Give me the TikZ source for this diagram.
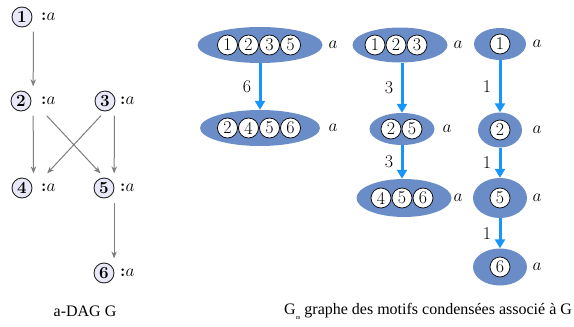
\documentclass[tikz,border=0pt]{standalone}
\usepackage{fontspec}
\newfontfamily\capfont{Liberation Serif}
\usetikzlibrary{arrows.meta,shapes.geometric,fit}
\definecolor{lavender}{RGB}{232,232,248}
\definecolor{motifblue}{RGB}{106,141,199}
\definecolor{arrowblue}{RGB}{22,150,250}
\definecolor{daggray}{RGB}{125,125,125}
\tikzset{
  dagnum/.style={circle, draw=black!85, fill=lavender, line width=0.9pt, inner sep=0pt,
    minimum size=20pt, font=\fontsize{17}{17}\selectfont\bfseries},
  dagtag/.style={anchor=west, inner sep=0pt, font=\fontsize{17}{17}\selectfont},
  dagbox/.style={inner sep=4pt},
  dagarrow/.style={draw=daggray, line width=1pt, -{Stealth[length=7pt,width=5.5pt]}},
  motif/.style={ellipse, fill=motifblue, inner sep=0pt},
  dotnum/.style={circle, draw=black, fill=white, line width=0.7pt, minimum size=20pt,
    inner sep=0pt, font=\fontsize{18}{18}\selectfont},
  motiftag/.style={font=\fontsize{18}{18}\selectfont},
  bluearrow/.style={draw=arrowblue, line width=3pt, -{Triangle[length=9pt,width=10pt]}},
  weight/.style={font=\fontsize{18}{18}\selectfont, left=4pt, midway},
  caption/.style={font=\capfont\fontsize{16}{16}\selectfont, inner sep=0pt}
}
\begin{document}
\begin{tikzpicture}[x=1pt,y=-1pt]
\useasboundingbox (0,0) rectangle (574,327);

% ---------- left: a-DAG G ----------
\node[dagnum] (c1) at (22,17) {1};  \node[dagtag] (t1) at (41,17) {\textbf{:}$a$};
\node[dagnum] (c2) at (21,101) {2}; \node[dagtag] (t2) at (41,101) {\textbf{:}$a$};
\node[dagnum] (c3) at (105,101) {3}; \node[dagtag] (t3) at (120,101) {\textbf{:}$a$};
\node[dagnum] (c4) at (22,188) {4}; \node[dagtag] (t4) at (41,188) {\textbf{:}$a$};
\node[dagnum] (c5) at (104,188) {5}; \node[dagtag] (t5) at (120,188) {\textbf{:}$a$};
\node[dagnum] (c6) at (104,273) {6}; \node[dagtag] (t6) at (120,273) {\textbf{:}$a$};
\node[dagbox, fit=(c1)(t1)] (g1) {};
\node[dagbox, fit=(c2)(t2)] (g2) {};
\node[dagbox, fit=(c3)(t3)] (g3) {};
\node[dagbox, fit=(c4)(t4)] (g4) {};
\node[dagbox, fit=(c5)(t5)] (g5) {};
\node[dagbox, fit=(c6)(t6)] (g6) {};
\draw[dagarrow] (g1) -- (g2);
\draw[dagarrow] (g2) -- (g4);
\draw[dagarrow] (g2) -- (g5);
\draw[dagarrow] (g3) -- (g4);
\draw[dagarrow] (g3) -- (g5);
\draw[dagarrow] (g5) -- (g6);

% ---------- right: condensed motif graphs ----------
% column 1
\node[motif, minimum width=125pt, minimum height=36pt] (e1) at (260,45) {};
\node[dotnum] (e1a) at (227.5,45) {1};
\node[dotnum] (e1b) at (248.5,45) {2};
\node[dotnum] (e1c) at (269.5,45) {3};
\node[dotnum] (e1d) at (290.5,45) {5};
\node[motiftag] (a1) at (333,45) {$a$};
\node[motif, minimum width=120pt, minimum height=36pt] (e2) at (260,128) {};
\node[dotnum] (e2a) at (227.5,128) {2};
\node[dotnum] (e2b) at (248.5,128) {4};
\node[dotnum] (e2c) at (269.5,128) {5};
\node[dotnum] (e2d) at (290.5,128) {6};
\node[motiftag] (a2) at (333,128) {$a$};
\draw[bluearrow] (e1) -- node[weight] (w1) {6} (e2);

% column 2
\node[motif, minimum width=95pt, minimum height=35pt] (e3) at (400,45) {};
\node[dotnum] (e3a) at (375,45) {1};
\node[dotnum] (e3b) at (396,45) {2};
\node[dotnum] (e3c) at (417,45) {3};
\node[motiftag] (a3) at (458,45) {$a$};
\node[motif, minimum width=65pt, minimum height=32pt] (e4) at (402,129) {};
\node[dotnum] (e4a) at (391,129) {2};
\node[dotnum] (e4b) at (412,129) {5};
\node[motiftag] (a4) at (447,129) {$a$};
\node[motif, minimum width=95pt, minimum height=38pt] (e5) at (404,198) {};
\node[dotnum] (e5a) at (381,198) {4};
\node[dotnum] (e5b) at (402,198) {5};
\node[dotnum] (e5c) at (423,198) {6};
\node[motiftag] (a5) at (458,198) {$a$};
\draw[bluearrow] (e3.south -| e4) -- node[weight] (w2) {3} (e4);
\draw[bluearrow] (e4) -- node[weight] (w3) {3} (e5.north -| e4);

% column 3
\node[motif, minimum width=52pt, minimum height=32pt] (e6) at (500,44) {};
\node[dotnum] (e6a) at (500,44) {1};
\node[motiftag] (a6) at (537,44) {$a$};
\node[motif, minimum width=44pt, minimum height=35pt] (e7) at (500,130) {};
\node[dotnum] (e7a) at (500,130) {2};
\node[motiftag] (a7) at (537,130) {$a$};
\node[motif, minimum width=54pt, minimum height=40pt] (e8) at (500,198) {};
\node[dotnum] (e8a) at (500,198) {5};
\node[motiftag] (a8) at (537,198) {$a$};
\node[motif, minimum width=54pt, minimum height=37pt] (e9) at (500,267) {};
\node[dotnum] (e9a) at (500,267) {6};
\node[motiftag] (a9) at (537,267) {$a$};
\draw[bluearrow] (e6) -- node[weight] (w4) {1} (e7);
\draw[bluearrow] (e7) -- node[weight] (w5) {1} (e8);
\draw[bluearrow] (e8) -- node[weight] (w6) {1} (e9);

% ---------- captions ----------
\node[caption] (cap1) at (85,311) {a-DAG G};
\node[caption, anchor=west] (cap2) at (284,311)
  {G\raisebox{-5pt}{\fontsize{6}{6}\selectfont m}\ graphe des motifs condensées associé à G};
\end{tikzpicture}
\end{document}
